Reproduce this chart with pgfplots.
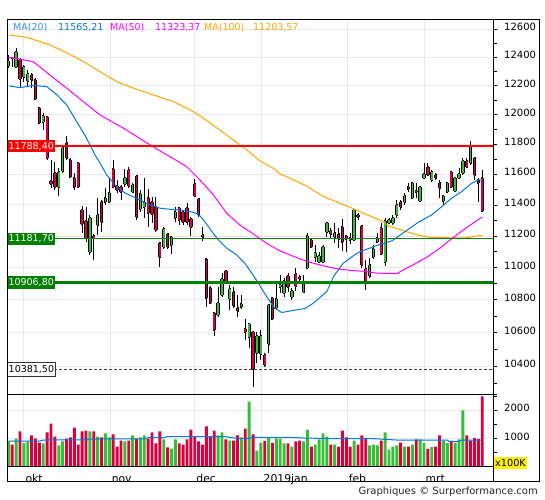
\documentclass[border=0pt]{standalone}
\usepackage{fontspec}
\setmainfont{DejaVu Sans}
\usepackage{pgfplots}
\usepackage{pgfplotstable}
\pgfplotsset{compat=1.18}
\definecolor{cgreen}{RGB}{55,190,55}
\definecolor{cred}{RGB}{218,0,62}
\definecolor{mablue}{RGB}{0,120,215}
\definecolor{mablueL}{RGB}{60,145,230}
\definecolor{mamag}{RGB}{255,0,255}
\definecolor{maorange}{RGB}{255,165,0}
\definecolor{gridgray}{RGB}{232,232,232}
\definecolor{lgreen}{RGB}{0,128,0}
\newcommand{\tf}{\fontsize{10bp}{12bp}\selectfont}
\newcommand{\xf}{\fontsize{10.8bp}{13bp}\selectfont}
\newcommand{\lf}{\fontsize{9.5bp}{11bp}\selectfont}

% wicks: low, high per day (index i)
\pgfplotstableread[row sep=\\]{
i y\\
0 12325\\ 0 12417\\ 0 nan\\
1 12332\\ 1 12403\\ 1 nan\\
2 12325\\ 2 12466\\ 2 nan\\
3 12186\\ 3 12396\\ 3 nan\\
4 12227\\ 4 12346\\ 4 nan\\
5 12200\\ 5 12311\\ 5 nan\\
6 12186\\ 6 12290\\ 6 nan\\
7 12103\\ 7 12255\\ 7 nan\\
8 11939\\ 8 12055\\ 8 nan\\
9 11898\\ 9 12014\\ 9 nan\\
10 11696\\ 10 11993\\ 10 nan\\
11 11511\\ 11 11696\\ 11 nan\\
12 11498\\ 12 11680\\ 12 nan\\
13 11459\\ 13 11643\\ 13 nan\\
14 11610\\ 14 11790\\ 14 nan\\
15 11696\\ 15 11857\\ 15 nan\\
16 11577\\ 16 11709\\ 16 nan\\
17 11498\\ 17 11610\\ 17 nan\\
18 11511\\ 18 11683\\ 18 nan\\
19 11220\\ 19 11394\\ 19 nan\\
20 11162\\ 20 11387\\ 20 nan\\
21 11080\\ 21 11336\\ 21 nan\\
22 11049\\ 22 11214\\ 22 nan\\
23 11207\\ 23 11446\\ 23 nan\\
24 11226\\ 24 11433\\ 24 nan\\
25 11400\\ 25 11511\\ 25 nan\\
26 11413\\ 26 11577\\ 26 nan\\
27 11511\\ 27 11696\\ 27 nan\\
28 11478\\ 28 11564\\ 28 nan\\
29 11433\\ 29 11531\\ 29 nan\\
30 11518\\ 30 11637\\ 30 nan\\
31 11511\\ 31 11650\\ 31 nan\\
32 11478\\ 32 11544\\ 32 nan\\
33 11303\\ 33 11597\\ 33 nan\\
34 11355\\ 34 11498\\ 34 nan\\
35 11316\\ 35 11577\\ 35 nan\\
36 11258\\ 36 11505\\ 36 nan\\
37 11284\\ 37 11452\\ 37 nan\\
38 11226\\ 38 11452\\ 38 nan\\
39 11005\\ 39 11160\\ 39 nan\\
40 11118\\ 40 11258\\ 40 nan\\
41 11118\\ 41 11220\\ 41 nan\\
42 11087\\ 42 11201\\ 42 nan\\
43 11290\\ 43 11387\\ 43 nan\\
44 11271\\ 44 11387\\ 44 nan\\
45 11271\\ 45 11368\\ 45 nan\\
46 11271\\ 46 11413\\ 46 nan\\
47 11201\\ 47 11323\\ 47 nan\\
48 11452\\ 48 11571\\ 48 nan\\
49 11323\\ 49 11446\\ 49 nan\\
50 11169\\ 50 11258\\ 50 nan\\
51 10757\\ 51 11061\\ 51 nan\\
52 10776\\ 52 10887\\ 52 nan\\
53 10581\\ 53 10727\\ 53 nan\\
54 10696\\ 54 10880\\ 54 nan\\
55 10819\\ 55 10967\\ 55 nan\\
56 10899\\ 56 10986\\ 56 nan\\
57 10739\\ 57 10893\\ 57 nan\\
58 10751\\ 58 10880\\ 58 nan\\
59 10696\\ 59 10831\\ 59 nan\\
60 10745\\ 60 10831\\ 60 nan\\
61 10557\\ 61 10684\\ 61 nan\\
62 10509\\ 62 10660\\ 62 nan\\
63 10279\\ 63 10610\\ 63 nan\\
64 10420\\ 64 10605\\ 64 nan\\
65 10437\\ 65 10617\\ 65 nan\\
66 10396\\ 66 10479\\ 66 nan\\
67 10479\\ 67 10776\\ 67 nan\\
68 10678\\ 68 10819\\ 68 nan\\
69 10739\\ 69 10899\\ 69 nan\\
70 10843\\ 70 10955\\ 70 nan\\
71 10819\\ 71 10936\\ 71 nan\\
72 10850\\ 72 10967\\ 72 nan\\
73 10800\\ 73 10874\\ 73 nan\\
74 10856\\ 74 10999\\ 74 nan\\
75 10912\\ 75 10955\\ 75 nan\\
76 10843\\ 76 10955\\ 76 nan\\
77 10992\\ 77 11220\\ 77 nan\\
78 11124\\ 78 11182\\ 78 nan\\
79 11036\\ 79 11143\\ 79 nan\\
80 11030\\ 80 11099\\ 80 nan\\
81 11030\\ 81 11143\\ 81 nan\\
82 11194\\ 82 11290\\ 82 nan\\
83 11182\\ 83 11252\\ 83 nan\\
84 11156\\ 84 11284\\ 84 nan\\
85 11124\\ 85 11252\\ 85 nan\\
86 11105\\ 86 11310\\ 86 nan\\
87 11099\\ 87 11207\\ 87 nan\\
88 11150\\ 88 11220\\ 88 nan\\
89 11175\\ 89 11375\\ 89 nan\\
90 11303\\ 90 11349\\ 90 nan\\
91 10999\\ 91 11271\\ 91 nan\\
92 10862\\ 92 11049\\ 92 nan\\
93 10936\\ 93 11061\\ 93 nan\\
94 11055\\ 94 11143\\ 94 nan\\
95 11156\\ 95 11220\\ 95 nan\\
96 11080\\ 96 11284\\ 96 nan\\
97 11011\\ 97 11316\\ 97 nan\\
98 11277\\ 98 11316\\ 98 nan\\
99 11271\\ 99 11336\\ 99 nan\\
100 11316\\ 100 11433\\ 100 nan\\
101 11368\\ 101 11433\\ 101 nan\\
102 11400\\ 102 11478\\ 102 nan\\
103 11485\\ 103 11544\\ 103 nan\\
104 11439\\ 104 11551\\ 104 nan\\
105 11446\\ 105 11544\\ 105 nan\\
106 11420\\ 106 11524\\ 106 nan\\
107 11577\\ 107 11676\\ 107 nan\\
108 11590\\ 108 11676\\ 108 nan\\
109 11551\\ 109 11630\\ 109 nan\\
110 11564\\ 110 11610\\ 110 nan\\
111 11446\\ 111 11564\\ 111 nan\\
112 11400\\ 112 11465\\ 112 nan\\
113 11478\\ 113 11551\\ 113 nan\\
114 11511\\ 114 11623\\ 114 nan\\
115 11485\\ 115 11584\\ 115 nan\\
116 11571\\ 116 11643\\ 116 nan\\
117 11597\\ 117 11709\\ 117 nan\\
118 11643\\ 118 11709\\ 118 nan\\
119 11663\\ 119 11823\\ 119 nan\\
120 11564\\ 120 11716\\ 120 nan\\
121 11420\\ 121 11577\\ 121 nan\\
122 11355\\ 122 11630\\ 122 nan\\
}\wicks

% rising days: open, close
\pgfplotstableread[row sep=\\]{
i y\\
0 12339\\ 0 12375\\ 0 nan\\
2 12332\\ 2 12438\\ 2 nan\\
4 12262\\ 4 12332\\ 4 nan\\
5 12234\\ 5 12283\\ 5 nan\\
9 11952\\ 9 11993\\ 9 nan\\
13 11520\\ 13 11619\\ 13 nan\\
14 11623\\ 14 11776\\ 14 nan\\
21 11099\\ 21 11316\\ 21 nan\\
23 11271\\ 23 11336\\ 23 nan\\
25 11420\\ 25 11446\\ 25 nan\\
26 11420\\ 26 11478\\ 26 nan\\
30 11538\\ 30 11577\\ 30 nan\\
32 11485\\ 32 11531\\ 32 nan\\
34 11375\\ 34 11472\\ 34 nan\\
35 11387\\ 35 11413\\ 35 nan\\
40 11131\\ 40 11245\\ 40 nan\\
42 11143\\ 42 11194\\ 42 nan\\
43 11316\\ 43 11355\\ 43 nan\\
54 10709\\ 54 10782\\ 54 nan\\
55 10831\\ 55 10930\\ 55 nan\\
57 10806\\ 57 10868\\ 57 nan\\
60 10757\\ 60 10776\\ 60 nan\\
62 10575\\ 62 10654\\ 62 nan\\
64 10479\\ 64 10581\\ 64 nan\\
65 10473\\ 65 10581\\ 65 nan\\
67 10533\\ 67 10770\\ 67 nan\\
69 10751\\ 69 10806\\ 69 nan\\
70 10880\\ 70 10893\\ 70 nan\\
71 10843\\ 71 10918\\ 71 nan\\
73 10819\\ 73 10856\\ 73 nan\\
76 10850\\ 76 10912\\ 76 nan\\
77 10999\\ 77 11201\\ 77 nan\\
79 11068\\ 79 11093\\ 79 nan\\
80 11036\\ 80 11074\\ 80 nan\\
81 11036\\ 81 11131\\ 81 nan\\
82 11226\\ 82 11284\\ 82 nan\\
84 11194\\ 84 11220\\ 84 nan\\
89 11175\\ 89 11368\\ 89 nan\\
93 10949\\ 93 11018\\ 93 nan\\
94 11068\\ 94 11118\\ 94 nan\\
95 11162\\ 95 11188\\ 95 nan\\
97 11036\\ 97 11297\\ 97 nan\\
98 11284\\ 98 11303\\ 98 nan\\
99 11284\\ 99 11316\\ 99 nan\\
100 11336\\ 100 11400\\ 100 nan\\
102 11420\\ 102 11459\\ 102 nan\\
104 11446\\ 104 11544\\ 104 nan\\
106 11426\\ 106 11518\\ 106 nan\\
107 11577\\ 107 11603\\ 107 nan\\
109 11564\\ 109 11617\\ 109 nan\\
112 11426\\ 112 11459\\ 112 nan\\
113 11485\\ 113 11544\\ 113 nan\\
115 11491\\ 115 11577\\ 115 nan\\
116 11577\\ 116 11603\\ 116 nan\\
117 11610\\ 117 11690\\ 117 nan\\
119 11676\\ 119 11788\\ 119 nan\\
}\upbody

% falling days: open, close
\pgfplotstableread[row sep=\\]{
i y\\
1 12398\\ 1 12394\\ 1 nan\\
3 12382\\ 3 12248\\ 3 nan\\
6 12276\\ 6 12241\\ 6 nan\\
7 12241\\ 7 12110\\ 7 nan\\
8 12048\\ 8 11946\\ 8 nan\\
10 11982\\ 10 11711\\ 10 nan\\
11 11557\\ 11 11538\\ 11 nan\\
12 11610\\ 12 11518\\ 12 nan\\
15 11810\\ 15 11709\\ 15 nan\\
16 11696\\ 16 11584\\ 16 nan\\
17 11577\\ 17 11518\\ 17 nan\\
18 11676\\ 18 11518\\ 18 nan\\
19 11368\\ 19 11277\\ 19 nan\\
20 11297\\ 20 11188\\ 20 nan\\
22 11201\\ 22 11188\\ 22 nan\\
24 11420\\ 24 11290\\ 24 nan\\
27 11637\\ 27 11518\\ 27 nan\\
28 11524\\ 28 11498\\ 28 nan\\
29 11518\\ 29 11485\\ 29 nan\\
31 11630\\ 31 11524\\ 31 nan\\
33 11590\\ 33 11323\\ 33 nan\\
36 11446\\ 36 11349\\ 36 nan\\
37 11420\\ 37 11342\\ 37 nan\\
38 11387\\ 38 11239\\ 38 nan\\
39 11156\\ 39 11068\\ 39 nan\\
41 11214\\ 41 11131\\ 41 nan\\
44 11381\\ 44 11303\\ 44 nan\\
45 11355\\ 45 11290\\ 45 nan\\
46 11381\\ 46 11290\\ 46 nan\\
47 11310\\ 47 11258\\ 47 nan\\
48 11538\\ 48 11459\\ 48 nan\\
49 11439\\ 49 11336\\ 49 nan\\
50 11207\\ 50 11194\\ 50 nan\\
51 11055\\ 51 10812\\ 51 nan\\
52 10874\\ 52 10782\\ 52 nan\\
53 10721\\ 53 10617\\ 53 nan\\
56 10980\\ 56 10918\\ 56 nan\\
58 10850\\ 58 10763\\ 58 nan\\
59 10751\\ 59 10733\\ 59 nan\\
61 10623\\ 61 10605\\ 61 nan\\
63 10605\\ 63 10381\\ 63 nan\\
66 10467\\ 66 10408\\ 66 nan\\
68 10812\\ 68 10684\\ 68 nan\\
72 10949\\ 72 10880\\ 72 nan\\
74 10961\\ 74 10887\\ 74 nan\\
75 10943\\ 75 10930\\ 75 nan\\
78 11175\\ 78 11131\\ 78 nan\\
83 11233\\ 83 11214\\ 83 nan\\
85 11214\\ 85 11182\\ 85 nan\\
86 11258\\ 86 11162\\ 86 nan\\
87 11201\\ 87 11182\\ 87 nan\\
88 11188\\ 88 11176\\ 88 nan\\
90 11336\\ 90 11323\\ 90 nan\\
91 11265\\ 91 11018\\ 91 nan\\
92 10992\\ 92 10907\\ 92 nan\\
96 11252\\ 96 11087\\ 96 nan\\
101 11420\\ 101 11387\\ 101 nan\\
103 11518\\ 103 11505\\ 103 nan\\
105 11491\\ 105 11485\\ 105 nan\\
108 11650\\ 108 11597\\ 108 nan\\
110 11597\\ 110 11577\\ 110 nan\\
111 11544\\ 111 11511\\ 111 nan\\
114 11617\\ 114 11518\\ 114 nan\\
118 11690\\ 118 11650\\ 118 nan\\
120 11709\\ 120 11597\\ 120 nan\\
121 11564\\ 121 11544\\ 121 nan\\
122 11577\\ 122 11364\\ 122 nan\\
}\downbody

% volume (x100K), vg = 1 for green bar
\pgfplotstableread{
i V vg
0 900 1
1 790 0
2 1000 1
3 1250 0
4 840 1
5 900 1
6 1110 0
7 1000 0
8 860 0
9 830 1
10 1215 0
11 1530 0
12 1070 0
13 760 1
14 900 1
15 1000 0
16 1040 0
17 1390 0
18 790 0
19 1250 0
20 1285 0
21 1250 1
22 1250 0
23 1070 1
24 1040 0
25 1180 1
26 1040 1
27 1145 0
28 720 0
29 930 0
30 900 1
31 930 0
32 1110 1
33 1000 0
34 1040 1
35 1110 1
36 1000 0
37 1215 0
38 830 0
39 1250 0
40 970 1
41 690 0
42 650 1
43 970 1
44 830 0
45 790 0
46 970 0
47 1320 0
48 1070 0
49 900 0
50 790 0
51 1430 0
52 1070 0
53 1285 0
54 1110 1
55 1215 1
56 970 0
57 930 1
58 930 0
59 1110 0
60 1040 1
61 1355 0
62 2300 1
63 1145 0
64 580 1
65 860 1
66 920 0
67 1030 1
68 850 0
69 1010 1
70 1000 1
71 830 1
72 830 0
73 720 1
74 900 0
75 930 0
76 900 1
77 1320 1
78 720 0
79 790 1
80 970 1
81 1180 1
82 1070 1
83 790 0
84 790 1
85 720 0
86 1285 0
87 1040 0
88 720 0
89 930 1
90 790 0
91 1110 0
92 1000 0
93 760 1
94 790 1
95 760 1
96 930 0
97 1215 1
98 615 1
99 720 1
100 760 1
101 860 0
102 720 1
103 720 0
104 790 1
105 970 0
106 970 1
107 840 1
108 640 0
109 700 1
110 720 0
111 1110 0
112 930 1
113 840 1
114 930 0
115 840 1
116 970 1
117 1990 1
118 1110 0
119 930 0
120 1015 0
121 990 0
122 2490 0
}\vol

\pgfplotstableread{
x y
0.26 12200
3.0 12188
6.4 12202
9.9 12195
12.5 12138
15.0 12069
17.6 11954
19.7 11864
21.0 11797
22.3 11730
23.6 11676
25.3 11597
27.5 11531
30.0 11478
33.9 11433
36.5 11400
39.0 11379
41.6 11372
44.2 11368
46.8 11357
48.9 11342
50.6 11292
52.4 11228
54.1 11175
56.2 11123
58.8 11080
60.9 11027
62.7 10965
64.4 10903
66.5 10820
68.6 10749
70.4 10723
73.4 10736
76.4 10748
78.5 10780
82.0 10852
83.7 10945
86.2 11028
89.7 11091
91.8 11112
95.2 11143
98.7 11169
102.1 11228
105.5 11288
109.0 11336
111.6 11390
114.1 11444
116.7 11487
119.3 11542
121.0 11564
122.0 11565.21
}\maA

\pgfplotstableread{
x y
0 12401
6.4 12370
10.7 12276
15.0 12184
19.3 12091
23.6 12000
29.6 11910
36.5 11797
40.8 11730
45.9 11652
49.3 11564
52.8 11466
56.2 11347
59.6 11271
63.1 11213
66.5 11153
69.9 11106
72.5 11080
75.1 11055
78.5 11028
82.0 11007
85.4 10990
88.8 10982
91.8 10977
94.8 10966
100.0 10963
102.5 10997
104.2 11018
107.7 11065
111.1 11123
114.5 11191
118.0 11255
122.0 11323.37
}\maB

\pgfplotstableread{
x y
0.26 12559
4.7 12542
10.7 12488
15.0 12433
19.3 12370
23.6 12299
27.9 12229
32.2 12184
37.3 12138
42.5 12091
46.8 12034
50.2 11978
54.1 11903
57.9 11830
61.4 11763
64.8 11689
68.2 11641
69.9 11604
72.5 11575
76.8 11524
81.1 11455
85.4 11412
89.2 11371
93.1 11329
96.1 11297
98.2 11260
100.4 11245
102.5 11228
104.7 11211
108.5 11192
113.3 11189
117.5 11188
120.6 11201
122.0 11203.57
}\maC

\pgfplotstableread{
x y
0 915
8 915
9 950
20 955
21 985
35 990
36 1033
40 1035
41 1068
56 1068
57 1040
59 1009
62 1009
63 1045
72 1045
76 1020
84 997
94 997
100 950
113 950
113.5 890
116 890
116.5 950
122 950
}\vma

\pgfplotstableread{
x r g t d
-1 11788.4 11181.7 10906.8 10381.5
126 11788.4 11181.7 10906.8 10381.5
}\levels

% the price axis is logarithmic; values are plotted in hundreds of points
% (y expr = value/100) so that TeX's dimension limit is not exceeded
\pgfplotsset{
  seg/.style={unbounded coords=jump, forget plot},
}

\begin{document}
\begin{tikzpicture}
\useasboundingbox (0,0) rectangle (545bp,500bp);
\fill[white] (0,0) rectangle (545bp,500bp);

\begin{axis}[
  at={(7bp,105bp)}, anchor=south west,
  scale only axis, width=486bp, height=375bp,
  xmin=-0.335, xmax=124.76,
  ymode=log, ymin=102.31, ymax=126.67,
  axis line style={draw=none},
  xtick={4,26.2,48,65.3,87.2,107}, xticklabels={}, xtick style={draw=none},
  ytick={104,106,108,110,112,114,116,118,120,122,124,126},
  yticklabels={10400,10600,10800,11000,11200,11400,11600,11800,12000,12200,12400,12600},
  minor ytick={103,105,107,109,111,113,115,117,119,121,123,125},
  ytick pos=right, yticklabel pos=right,
  tick align=outside, major tick length=4bp, minor tick length=4bp,
  ytick style={black, line width=0.8bp},
  yticklabel style={font=\tf, anchor=base west, inner sep=0pt, xshift=7bp, yshift=-1.5bp},
  grid=major, major grid style={draw=gridgray, line width=1bp},
]
% wicks
\addplot[seg, black, line width=0.9bp] table[x=i, y expr=\thisrow{y}/100] {\wicks};
% body outlines
\addplot[seg, black, line width=3.3bp] table[x=i, y expr=\thisrow{y}/100] {\upbody};
\addplot[seg, black, line width=3.3bp] table[x=i, y expr=\thisrow{y}/100] {\downbody};
\addplot[seg, black, line width=2bp, line cap=rect] table[x=i, y expr=\thisrow{y}/100] {\upbody};
\addplot[seg, black, line width=2bp, line cap=rect] table[x=i, y expr=\thisrow{y}/100] {\downbody};
% body fills
\addplot[seg, cgreen, line width=1.6bp] table[x=i, y expr=\thisrow{y}/100] {\upbody};
\addplot[seg, cred, line width=1.6bp] table[x=i, y expr=\thisrow{y}/100] {\downbody};

\addplot[maorange, line width=1bp] table[x=x, y expr=\thisrow{y}/100] {\maC};
\addplot[mamag, line width=1bp] table[x=x, y expr=\thisrow{y}/100] {\maB};
\addplot[mablue, line width=1bp] table[x=x, y expr=\thisrow{y}/100] {\maA};

\addplot[red, line width=2bp] table[x=x, y expr=\thisrow{r}/100] {\levels};
\addplot[lgreen, line width=1bp] table[x=x, y expr=\thisrow{g}/100] {\levels};
\addplot[lgreen, line width=3bp] table[x=x, y expr=\thisrow{t}/100] {\levels};
\addplot[black!75, line width=1bp, dash pattern=on 3bp off 2bp] table[x=x, y expr=\thisrow{d}/100] {\levels};

\node[anchor=west, fill=red, text=white, font=\lf, inner sep=0pt, minimum width=48bp, minimum height=12.5bp] at (axis cs:-0.335,117.884) {11788,40};
\node[anchor=west, fill=lgreen, text=white, font=\lf, inner sep=0pt, minimum width=48bp, minimum height=12.5bp] at (axis cs:-0.335,111.817) {11181,70};
\node[anchor=west, fill=lgreen, text=white, font=\lf, inner sep=0pt, minimum width=48bp, minimum height=12.5bp] at (axis cs:-0.335,109.068) {10906,80};
\node[anchor=west, fill=white, draw=black!80, line width=0.8bp, text=black, font=\lf, inner sep=0pt, minimum width=48bp, minimum height=13.5bp] at (axis cs:-0.335,103.815) {10381,50};
\end{axis}

\begin{axis}[
  at={(7bp,33bp)}, anchor=south west,
  scale only axis, width=486bp, height=72bp,
  xmin=-0.335, xmax=124.76, ymin=0, ymax=2535,
  axis line style={draw=none},
  xtick={4,26.2,48,65.3,87.2,107}, xticklabels={okt,nov,dec,2019jan,feb,mrt},
  xtick style={draw=none},
  xticklabel style={font=\xf, anchor=base west, inner sep=0pt, xshift=1.5bp, yshift=-11bp},
  ytick={1000,2000}, yticklabels={1000,2000}, minor ytick={500,1500,2500},
  ytick pos=right, yticklabel pos=right,
  tick align=outside, major tick length=4bp, minor tick length=4bp,
  ytick style={black, line width=0.8bp},
  yticklabel style={font=\tf, anchor=base west, inner sep=0pt, xshift=7bp, yshift=-1.5bp},
  grid=major, major grid style={draw=gridgray, line width=1bp},
]
\addplot[ybar, bar width=2.9bp, bar shift=0pt, fill=cgreen, draw=none] table[x=i, y expr={\thisrow{vg}>0 ? \thisrow{V} : 0}] {\vol};
\addplot[ybar, bar width=2.9bp, bar shift=0pt, fill=cred, draw=none] table[x=i, y expr={\thisrow{vg}>0 ? 0 : \thisrow{V}}] {\vol};
\addplot[mablue, line width=1bp] table[x=x, y=y] {\vma};
\end{axis}

% frame
\draw[black, line width=1bp] (7bp,18bp) rectangle (539bp,480bp);
\draw[black, line width=1bp] (493bp,18bp) -- (493bp,480bp);
\draw[black, line width=1bp] (7bp,105bp) -- (497bp,105bp);
\draw[black, line width=1bp] (7bp,33bp) -- (493bp,33bp);

% legend
\node[anchor=base west, inner sep=0pt, font=\lf, text=mablueL] at (13bp,469.5bp) {MA(20)};
\node[anchor=base west, inner sep=0pt, font=\lf, text=mablue] at (58bp,469.5bp) {11565,21};
\node[anchor=base west, inner sep=0pt, font=\lf, text=mamag] at (110bp,469.5bp) {MA(50)};
\node[anchor=base west, inner sep=0pt, font=\lf, text=mamag] at (155bp,469.5bp) {11323,37};
\node[anchor=base west, inner sep=0pt, font=\lf, text=maorange] at (204bp,469.5bp) {MA(100)};
\node[anchor=base west, inner sep=0pt, font=\lf, text=maorange] at (253bp,469.5bp) {11203,57};

% volume unit box
\node[fill=yellow, text=black, font=\fontsize{9.7bp}{11bp}\selectfont, inner sep=0pt, minimum width=33bp, minimum height=12bp] at (510.5bp,37bp) {x100K};

% credit
\node[anchor=base east, inner sep=0pt, font=\fontsize{10bp}{12bp}\selectfont, text=black!85] at (538bp,6bp) {Graphiques © Surperformance.com};
\end{tikzpicture}
\end{document}
